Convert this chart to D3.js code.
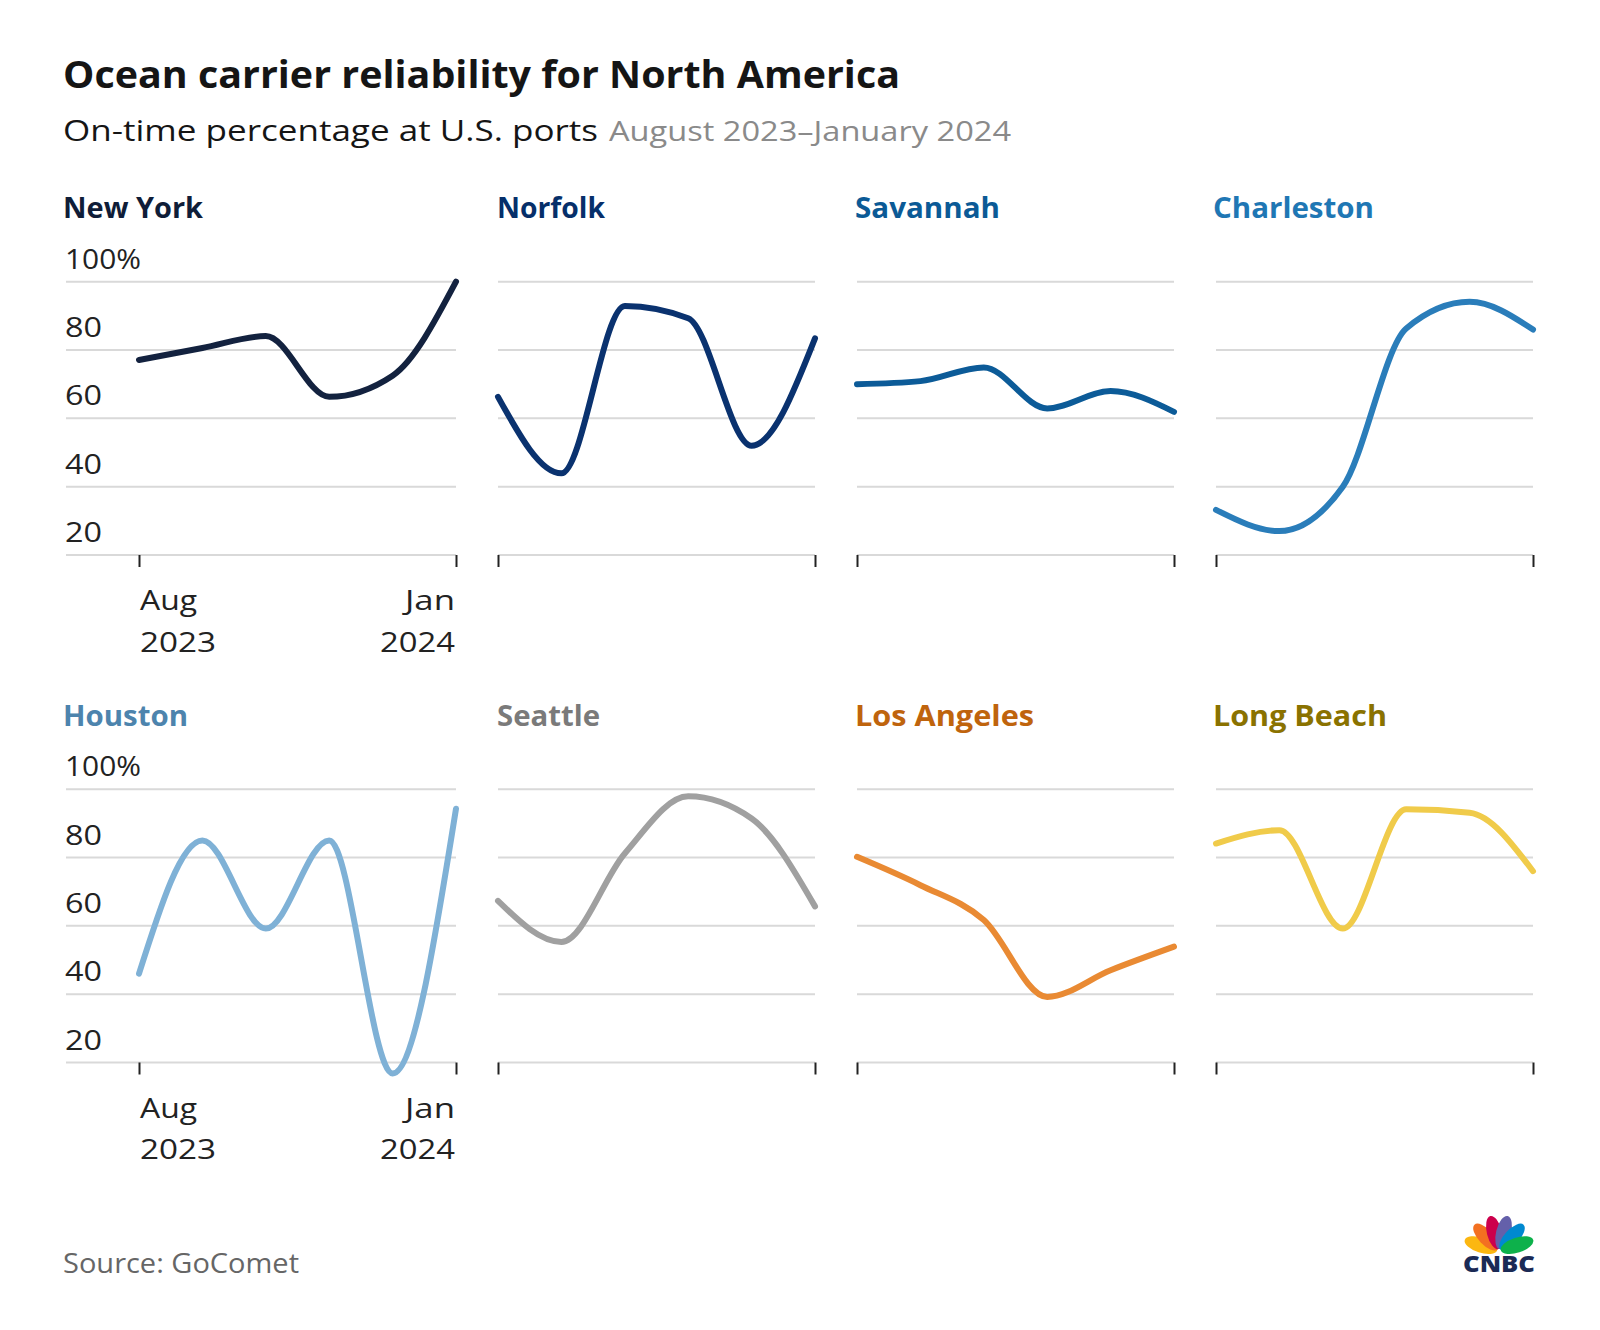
<!DOCTYPE html>
<html>
<head>
<meta charset="utf-8">
<script src="https://cdn.jsdelivr.net/npm/d3@7"></script>
<style>
  html, body { margin: 0; padding: 0; background: #fff; }
  svg { display: block; font-family: "Open Sans", Lato, sans-serif; }
</style>
</head>
<body>
<svg id="chart" width="1600" height="1330"></svg>
<script>
// ---- data ----
const months = ["2023-08", "2023-09", "2023-10", "2023-11", "2023-12", "2024-01"];
const ports = ["New York", "Norfolk", "Savannah", "Charleston", "Houston", "Seattle", "Los Angeles", "Long Beach"];
const newYork    = [77.1, 80.6, 84.1, 66.3, 72.5, 100];
const norfolk    = [66.3, 43.9, 92.9, 89.3, 52.0, 83.4];
const savannah   = [70.0, 70.9, 74.9, 62.9, 68.0, 61.9];
const charleston = [33.2, 27.0, 40.0, 86.3, 94.1, 86.0];
const houston    = [46.0, 85.0, 59.2, 85.0, 16.8, 94.3];
const seattle    = [67.3, 55.3, 81.2, 97.9, 91.4, 65.7];
const losAngeles = [80.2, 71.9, 61.7, 39.2, 47.0, 53.9];
const longBeach  = [84.1, 88.0, 59.2, 94.1, 93.1, 76.0];
const yTicks = [20, 40, 60, 80, 100];
const yTickLabels = ["20", "40", "60", "80", "100%"];
const xTickLabels = [["Aug", "2023"], ["Jan", "2024"]];
const titleColors = ["#0f1d38", "#062f6a", "#0b5a96", "#1f77b4", "#4d84ad", "#7a7a7a", "#bf640d", "#8a7200"];
const lineColors  = ["#13223f", "#0a326f", "#0c5b98", "#2a7dba", "#7fb1d6", "#a0a0a0", "#e98a33", "#f0cb4a"];

const seriesList = [newYork, norfolk, savannah, charleston, houston, seattle, losAngeles, longBeach];

// ---- layout (sizes/widths matched to the reference typography) ----
const titleWidths = [140, 108, 145, 161, 125, 103, 179, 174];
const titleLefts = [63, 497, 855, 1213];
const yLabelWidths = [37, 37, 37, 37, 76];
const xLabelWidths = [[57, 76], [50, 75]];

const svg = d3.select("#chart");
svg.append("rect").attr("width", 1600).attr("height", 1330).attr("fill", "#fff");

svg.append("text")
  .attr("x", 63).attr("y", 88)
  .attr("font-size", 37).attr("font-weight", 700).attr("fill", "#151515")
  .attr("textLength", 837).attr("lengthAdjust", "spacingAndGlyphs")
  .text("Ocean carrier reliability for North America");

svg.append("text")
  .attr("x", 63).attr("y", 141)
  .attr("font-size", 30).attr("fill", "#151515")
  .attr("textLength", 535).attr("lengthAdjust", "spacingAndGlyphs")
  .text("On-time percentage at U.S. ports");
svg.append("text")
  .attr("x", 609).attr("y", 141)
  .attr("font-size", 28).attr("fill", "#8a8a8a")
  .attr("textLength", 402).attr("lengthAdjust", "spacingAndGlyphs")
  .text("August 2023\u2013January 2024");

const colLefts = [139, 498, 857, 1216];
const plotW = 317;
const rowOff = [0, 507.5];
const yTop = 281.7, yBot = 555;

ports.forEach((name, i) => {
  const col = i % 4, row = Math.floor(i / 4);
  const left = colLefts[col], off = rowOff[row];
  const g = svg.append("g");
  const x = d3.scalePoint().domain(months).range([left, left + plotW]);
  const y = d3.scaleLinear().domain([20, 100]).range([yBot + off, yTop + off]);
  const gridLeft = col === 0 ? 66 : left;

  // gridlines
  g.selectAll("line.grid").data(yTicks).join("line")
    .attr("class", "grid")
    .attr("x1", gridLeft).attr("x2", left + plotW)
    .attr("y1", d => y(d)).attr("y2", d => y(d))
    .attr("stroke", "#d9d9d9").attr("stroke-width", 2);

  // x ticks via axis
  const ax = g.append("g")
    .attr("transform", `translate(0,${y(20)})`)
    .call(d3.axisBottom(x).tickValues([months[0], months[months.length - 1]]).tickSize(12).tickFormat(""));
  ax.select(".domain").remove();
  ax.selectAll(".tick line").attr("stroke", "#222").attr("stroke-width", 2);

  if (col === 0) {
    g.selectAll("text.ylab").data(yTicks).join("text")
      .attr("class", "ylab")
      .attr("x", 65).attr("y", d => y(d) - 13)
      .attr("font-size", 27).attr("fill", "#222")
      .attr("textLength", (d, k) => yLabelWidths[k]).attr("lengthAdjust", "spacingAndGlyphs")
      .text((d, k) => yTickLabels[k]);
    const ends = [months[0], months[months.length - 1]];
    ends.forEach((m, k) => {
      [0, 1].forEach(line => {
        g.append("text")
          .attr("font-size", 27).attr("fill", "#222")
          .attr("text-anchor", k === 0 ? "start" : "end")
          .attr("x", x(m) + (k === 0 ? 1 : -1))
          .attr("y", y(20) + (line === 0 ? 55 : 96.5))
          .attr("textLength", xLabelWidths[k][line]).attr("lengthAdjust", "spacingAndGlyphs")
          .text(xTickLabels[k][line]);
      });
    });
  }

  // title
  g.append("text")
    .attr("x", titleLefts[col]).attr("y", 218 + off)
    .attr("font-size", 28).attr("font-weight", 700).attr("fill", titleColors[i])
    .attr("textLength", titleWidths[i]).attr("lengthAdjust", "spacingAndGlyphs")
    .text(name);

  // line
  const line = d3.line().x((d, k) => x(months[k])).y(d => y(d)).curve(d3.curveMonotoneX);
  g.append("path")
    .datum(seriesList[i])
    .attr("d", line)
    .attr("fill", "none")
    .attr("stroke", lineColors[i])
    .attr("stroke-width", 6)
    .attr("stroke-linecap", "round")
    .attr("stroke-linejoin", "round");
});

// source
svg.append("text")
  .attr("x", 63).attr("y", 1273)
  .attr("font-size", 28).attr("fill", "#666")
  .attr("textLength", 236).attr("lengthAdjust", "spacingAndGlyphs")
  .text("Source: GoComet");

// CNBC logo
const logo = svg.append("g").attr("transform", "translate(1499,1251)");
const featherColors = ["#fcb711", "#f37021", "#cc004c", "#6460aa", "#0089d0", "#0db14b"];
const angles = [-72, -43, -14, 14, 43, 72];
featherColors.forEach((c, k) => {
  logo.append("ellipse")
    .attr("transform", `rotate(${angles[k]}) translate(0,-19)`)
    .attr("rx", 7.5).attr("ry", 17)
    .attr("fill", c);
});
svg.append("text")
  .attr("x", 1499).attr("y", 1272)
  .attr("text-anchor", "middle")
  .attr("font-size", 22).attr("font-weight", 800).attr("fill", "#1b2a55")
  .attr("textLength", 72).attr("lengthAdjust", "spacingAndGlyphs")
  .text("CNBC");
</script>
</body>
</html>
